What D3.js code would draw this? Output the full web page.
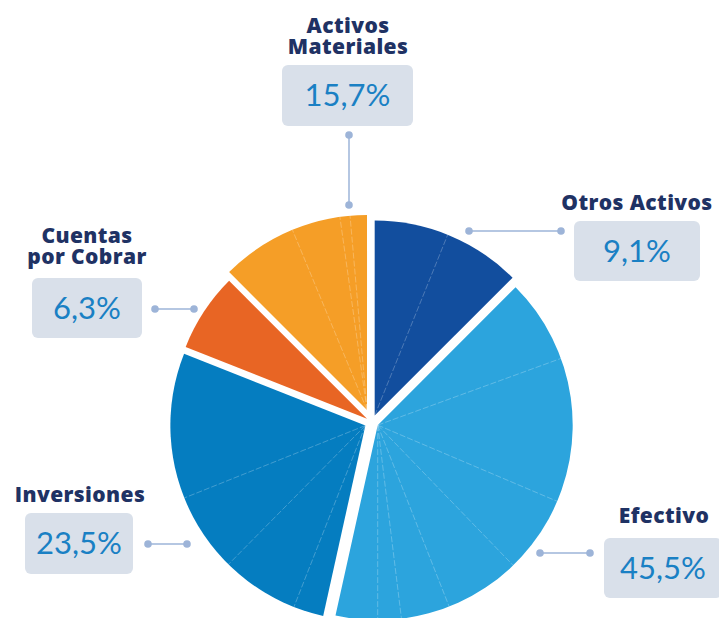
<!DOCTYPE html>
<html><head><meta charset="utf-8">
<script src="https://cdn.jsdelivr.net/npm/d3@7"></script>
<style>
html,body{margin:0;padding:0;background:#fff;}
svg{display:block;}
</style></head>
<body>
<svg id="chart" width="719" height="618"></svg>
<script>
// ---- data ----
const categories = ["Otros Activos", "Efectivo", "Inversiones", "Cuentas por Cobrar", "Activos Materiales"];
const shareLabels = ["9,1%", "45,5%", "23,5%", "6,3%", "15,7%"];
// sub-slices of each category, as drawn (clockwise from 12 o'clock)
const subOtros = [22, 23];
const subEfectivo = [25, 43, 23, 22.5, 14.5, 7, 12.5];
const subInversiones = [9, 23.1, 23.6, 43.4];
const subCuentas = [23.4];
const subMateriales = [22.5, 14.5, 3, 5];
const subSlices = [subOtros, subEfectivo, subInversiones, subCuentas, subMateriales];

// ---- style / layout ----
const colors = ["#124E9E", "#2CA4DD", "#057DC0", "#E86524", "#F59E27"];
const explode = [7, 6.5, 7.5, 6, 13];
const cx = 372, cy = 422, R = 195;
const titleColor = "#1F3264", valueColor = "#1A80C4", boxFill = "#D9E0EA", connColor = "#9DB4D8";

const svg = d3.select("#chart");
const groupTotals = subSlices.map(s => d3.sum(s));
const groupArcs = d3.pie().sort(null).value(d => d)(groupTotals);
const arc = d3.arc().innerRadius(0).outerRadius(R);
const radial = d3.lineRadial().angle(d => d[0]).radius(d => d[1]);

const root = svg.append("g").attr("transform", `translate(${cx},${cy})`);

groupArcs.forEach((g, i) => {
  const mid = (g.startAngle + g.endAngle) / 2;
  const tx = explode[i] * Math.sin(mid), ty = -explode[i] * Math.cos(mid);
  const gg = root.append("g").attr("transform", `translate(${tx},${ty})`);
  gg.append("path").attr("d", arc(g)).attr("fill", colors[i]);
  const subs = d3.pie().sort(null).startAngle(g.startAngle).endAngle(g.endAngle)(subSlices[i]);
  subs.slice(1).forEach(s => {
    gg.append("path")
      .attr("d", radial([[s.startAngle, 0], [s.startAngle, R]]))
      .attr("fill", "none")
      .attr("stroke", "rgba(255,255,255,0.28)")
      .attr("stroke-width", 0.9)
      .attr("stroke-dasharray", "6 2");
  });
});

// ---- labels ----
const labels = [
  {i: 0, box: [574, 221, 126, 60], title: ["Otros Activos"], titleX: 637, titleY: 210, conn: [[469, 231], [561, 231]]},
  {i: 1, box: [604, 538, 118, 60], title: ["Efectivo"], titleX: 664, titleY: 523, conn: [[540, 553], [590, 553]]},
  {i: 2, box: [25, 513, 108, 61], title: ["Inversiones"], titleX: 80, titleY: 502, conn: [[148, 544], [187, 544]]},
  {i: 3, box: [32, 278, 110, 60], title: ["Cuentas", "por Cobrar"], titleX: 87, titleY: 243, conn: [[155, 309], [194, 309]]},
  {i: 4, box: [282, 65, 131, 61], title: ["Activos", "Materiales"], titleX: 348, titleY: 33, conn: [[349, 135], [349, 205]]}
];

labels.forEach(L => {
  const [bx, by, bw, bh] = L.box;
  svg.append("rect").attr("x", bx).attr("y", by).attr("width", bw).attr("height", bh)
    .attr("rx", 6).attr("fill", boxFill);
  svg.append("text").attr("x", bx + bw / 2).attr("y", by + bh / 2 + 10.5)
    .attr("text-anchor", "middle").attr("fill", valueColor)
    .attr("font-family", "Lato, 'Open Sans', sans-serif").attr("font-size", 31)
    .text(shareLabels[L.i]);
  const t = svg.append("text").attr("x", L.titleX).attr("y", L.titleY)
    .attr("text-anchor", "middle").attr("fill", titleColor)
    .attr("font-family", "'Open Sans', sans-serif").attr("font-weight", 800).attr("font-size", 21)
    .attr("letter-spacing", 0.4);
  L.title.forEach((line, k) => {
    t.append("tspan").attr("x", L.titleX).attr("dy", k === 0 ? 0 : 20.5).text(line);
  });
  svg.append("line").attr("x1", L.conn[0][0]).attr("y1", L.conn[0][1])
    .attr("x2", L.conn[1][0]).attr("y2", L.conn[1][1])
    .attr("stroke", connColor).attr("stroke-width", 1.5);
  L.conn.forEach(p => svg.append("circle").attr("cx", p[0]).attr("cy", p[1]).attr("r", 3.8).attr("fill", connColor));
});
</script>
</body></html>
